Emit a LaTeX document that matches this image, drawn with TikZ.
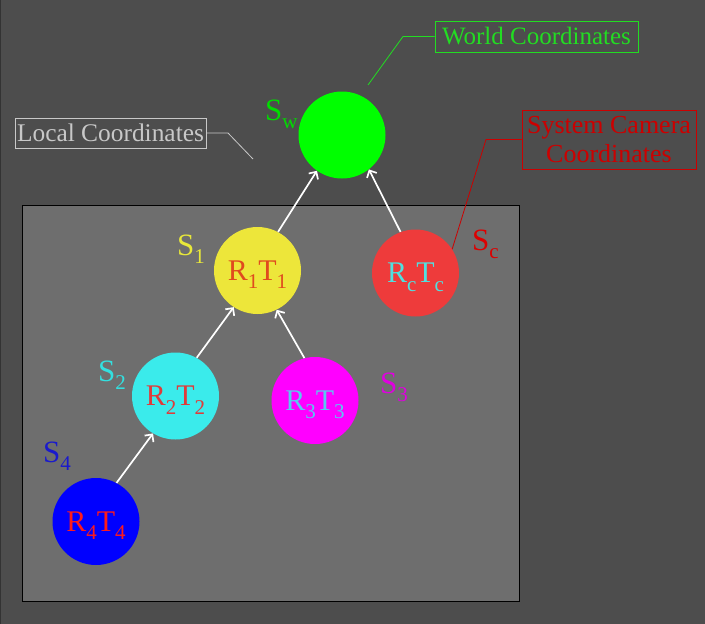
\documentclass[tikz,border=0pt]{standalone}
\usepackage{fontspec}
\setmainfont{Liberation Serif}
\usetikzlibrary{arrows.meta}
\definecolor{bgdark}{HTML}{4D4D4D}
\definecolor{bginner}{HTML}{6E6E6E}
\definecolor{cgreen}{HTML}{00FF00}
\definecolor{cyellow}{HTML}{EDE63A}
\definecolor{cred}{HTML}{EE3B3B}
\definecolor{ccyan}{HTML}{3AEBEB}
\definecolor{cmag}{HTML}{FF00FF}
\definecolor{cblue}{HTML}{0000FF}
\definecolor{torange}{HTML}{E04B1E}
\definecolor{tcyan}{HTML}{50E0E0}
\definecolor{tred}{HTML}{E03A3A}
\definecolor{tsky}{HTML}{5BC8F0}
\definecolor{tbrightred}{HTML}{FF1A1A}
\definecolor{lyellow}{HTML}{E8E83A}
\definecolor{lcyan}{HTML}{33E0E0}
\definecolor{lmag}{HTML}{E000E0}
\definecolor{lblue}{HTML}{1A1ACC}
\definecolor{lred}{HTML}{DD0000}
\definecolor{lgreen}{HTML}{00DD00}
\definecolor{boxgreen}{HTML}{22DD22}
\definecolor{boxgray}{HTML}{C8C8C8}
\definecolor{boxred}{HTML}{CC0000}
\newcommand\subs[1]{\raisebox{-0.27em}{\fontsize{21}{21}\selectfont #1}}
\begin{document}
\begin{tikzpicture}[x=1pt,y=-1pt,
  ball/.style={circle,minimum size=87pt,inner sep=0pt,
    font=\fontsize{30}{30}\selectfont,text height=19.9pt,text depth=0pt},
  slabel/.style={anchor=base west,inner sep=0pt,font=\fontsize{31}{31}\selectfont},
  linkarrow/.style={draw=white,line width=1.7pt,-{Straight Barb[length=5.5pt,width=11pt]}},
  tagbox/.style={draw,rectangle,inner sep=0pt,line width=0.8pt},
  tagline/.style={line width=0.8pt}]
\useasboundingbox (0,0) rectangle (705,624);
\fill[bgdark] (0,0) rectangle (705,624);
\draw[black!80,line width=1pt] (0.5,0) -- (0.5,624);
\draw[fill=bginner,draw=black,line width=1pt] (22,205) rectangle (519,601);

\node[ball,fill=cgreen] (sw) at (342,135) {};
\node[ball,fill=cyellow,text=torange] (s1) at (257.5,270.5) {R\subs{1}T\subs{1}};
\node[ball,fill=cred,text=tcyan] (sc) at (415.5,273) {R\subs{c}T\subs{c}};
\node[ball,fill=ccyan,text=tred] (s2) at (175.5,396) {R\subs{2}T\subs{2}};
\node[ball,fill=cmag,text=tsky] (s3) at (315,400.5) {R\subs{3}T\subs{3}};
\node[ball,fill=cblue,text=tbrightred] (s4) at (96,521.5) {R\subs{4}T\subs{4}};

\node[slabel,text=lgreen] (lw) at (265,120) {S\subs{w}};
\node[slabel,text=lyellow] (l1) at (177,255) {S\subs{1}};
\node[slabel,text=lred] (lc) at (472,250) {S\subs{c}};
\node[slabel,text=lcyan] (l2) at (98,381) {S\subs{2}};
\node[slabel,text=lmag] (l3) at (380,393) {S\subs{3}};
\node[slabel,text=lblue] (l4) at (43,462) {S\subs{4}};

\draw[linkarrow] (s1.62) -- (sw.235);
\draw[linkarrow] (sc.110) -- (sw.-52);
\draw[linkarrow] (s2.61) -- (s1.237);
\draw[linkarrow] (s3.104) -- (s1.-64);
\draw[linkarrow] (s4.62) -- (s2.239);

\node[tagbox,draw=boxgreen,text=boxgreen,minimum width=203pt,minimum height=31pt,
  font=\fontsize{25}{25}\selectfont] (world) at (536.5,36.5) {World Coordinates};
\node[tagbox,draw=boxgray,text=boxgray,minimum width=191pt,minimum height=30pt,
  font=\fontsize{25.4}{25.4}\selectfont] (local) at (110.5,133) {Local Coordinates};
\node[tagbox,draw=boxred,text=boxred,minimum width=174pt,minimum height=59pt,align=center,
  font=\fontsize{26}{29}\selectfont] (cam) at (609,139.5) {System Camera\\Coordinates};

\coordinate (wend) at (368,85);
\coordinate (wbend) at (403,36.5);
\coordinate (lend) at (253,159);
\coordinate (lbend) at (228,133);
\coordinate (cbend) at (486,139.5);
\draw[tagline,boxgreen] (wend) -- (wbend) -- (world.west);
\draw[tagline,boxgray] (local.east) -- (lbend) -- (lend);
\draw[tagline,boxred] (sc.33) -- (cbend) -- (cam.west);
\end{tikzpicture}
\end{document}
